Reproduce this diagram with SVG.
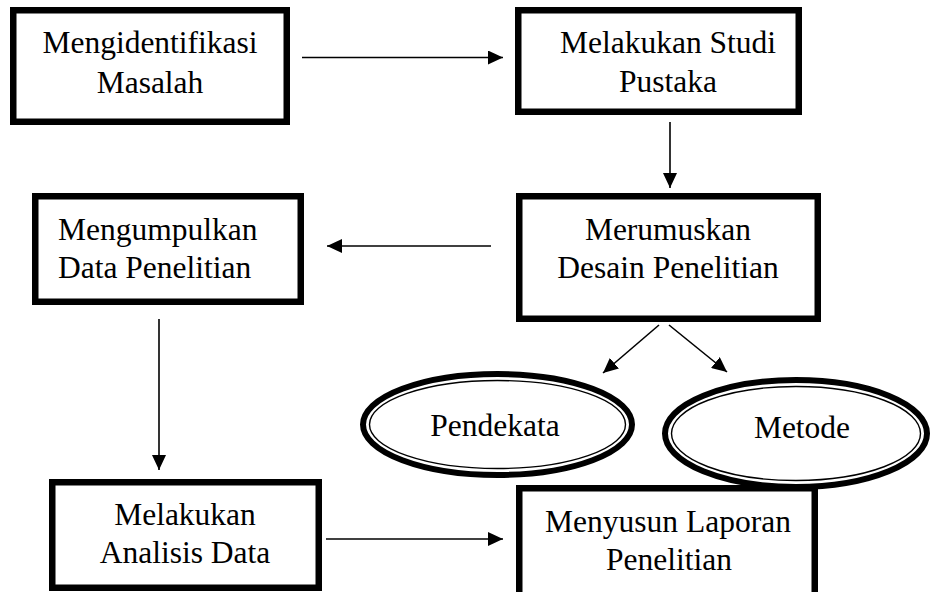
<svg xmlns="http://www.w3.org/2000/svg" width="931" height="592" viewBox="0 0 931 592">
<style>
.box{fill:#fff;stroke:#000;stroke-width:6.5}
.eo{fill:#fff;stroke:#000;stroke-width:6}
.ei{fill:none;stroke:#000;stroke-width:1.4}
.c{stroke:#000;stroke-width:1.6;fill:none;marker-end:url(#ah)}
text{font-family:'Liberation Serif','Times New Roman',Times,Tinos,'Noto Serif','DejaVu Serif',FreeSerif,serif;font-size:31.5px;fill:#000;text-anchor:middle}
</style>
<defs>
<marker id="ah" viewBox="0 0 15 14" refX="15" refY="7" markerWidth="15" markerHeight="14" markerUnits="userSpaceOnUse" orient="auto"><path d="M0,0 L15,7 L0,14 z" fill="#000"/></marker>
</defs>
<rect width="931" height="592" fill="#fff"/>
<g id="n1"><rect class="box" x="13.25" y="10.25" width="273.5" height="111.5"/><text x="150" y="53">Mengidentifikasi</text><text x="150" y="93">Masalah</text></g>
<g id="n2"><rect class="box" x="518.25" y="10.25" width="280.5" height="101.5"/><text x="668" y="53">Melakukan Studi</text><text x="668" y="92">Pustaka</text></g>
<g id="n3"><rect class="box" x="519.25" y="196.25" width="298.5" height="122.5"/><text x="668" y="240">Merumuskan</text><text x="668" y="278">Desain Penelitian</text></g>
<g id="n4"><rect class="box" x="35.25" y="196.25" width="265.5" height="105.5"/><text x="58" y="240" style="text-anchor:start">Mengumpulkan</text><text x="58" y="278" style="text-anchor:start">Data Penelitian</text></g>
<g id="n5"><rect class="box" x="52.25" y="482.25" width="266.5" height="105.5"/><text x="185" y="525">Melakukan</text><text x="185" y="563">Analisis Data</text></g>
<g id="n6"><rect class="box" x="519.25" y="488.25" width="295.5" height="120"/><text x="668" y="532">Menyusun Laporan</text><text x="669" y="570">Penelitian</text></g>
<g id="n7"><ellipse class="eo" cx="497.5" cy="424.5" rx="134.5" ry="50.5"/><ellipse class="ei" cx="497.5" cy="424.5" rx="128" ry="44"/><text x="495" y="436">Pendekata</text></g>
<g id="n8"><ellipse class="eo" cx="796" cy="433.5" rx="131" ry="53.5"/><ellipse class="ei" cx="796" cy="433.5" rx="124.5" ry="47"/><text x="802" y="438">Metode</text></g>
<g id="connectors">
<line class="c" x1="302" y1="57.5" x2="503" y2="57.5"/>
<line class="c" x1="670" y1="122" x2="670" y2="188"/>
<line class="c" x1="491" y1="246" x2="327" y2="246"/>
<line class="c" x1="159" y1="319" x2="159" y2="470"/>
<line class="c" x1="326" y1="539" x2="503" y2="539"/>
<line class="c" x1="659" y1="325" x2="603" y2="373"/>
<line class="c" x1="669" y1="325" x2="727" y2="372"/>
</g>
</svg>
